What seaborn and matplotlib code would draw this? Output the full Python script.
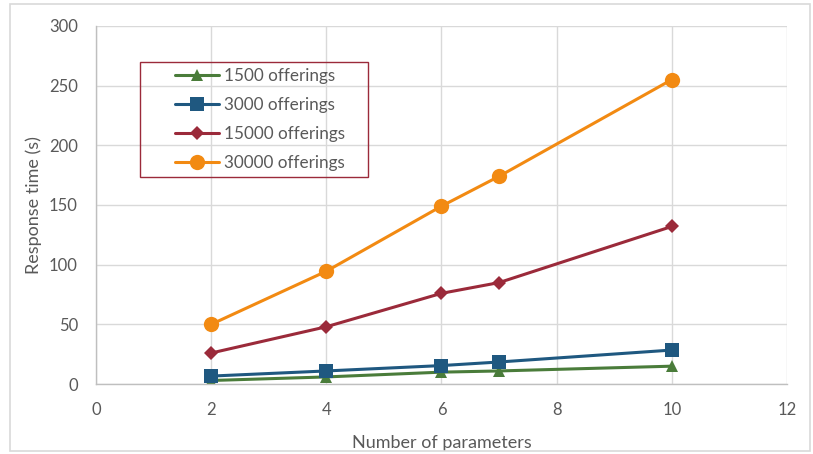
import matplotlib
matplotlib.use("Agg")
import matplotlib.pyplot as plt
import seaborn as sns
import pandas as pd
from matplotlib.patches import Rectangle

sns.set_theme(style="whitegrid")
plt.rcParams['font.family'] = ['Lato', 'DejaVu Sans']

params = [2, 4, 6, 7, 10]
s1500 = [3, 6, 10, 11, 15]
s3000 = [6.7, 11, 15.5, 18.5, 28.5]
s15000 = [26, 48, 76, 85, 132]
s30000 = [50, 94.5, 149, 174, 255]
series_names = ["1500 offerings", "3000 offerings", "15000 offerings", "30000 offerings"]
colors = ["#4a7c3a", "#1f5880", "#9b2a3a", "#f28a12"]
markers = ["^", "s", "D", "o"]
msizes = [9, 10, 7, 11]

df = pd.DataFrame({
    "params": params * 4,
    "time": s1500 + s3000 + s15000 + s30000,
    "series": sum([[n] * len(params) for n in series_names], []),
})

fig = plt.figure(figsize=(8.13, 4.54), dpi=100)
ax = fig.add_axes([0.118, 0.154, 0.850, 0.789])

for name, c, m, ms in zip(series_names, colors, markers, msizes):
    sub = df[df["series"] == name]
    sns.lineplot(data=sub, x="params", y="time", ax=ax, color=c, marker=m,
                 markersize=ms, markeredgewidth=0, linewidth=2.2, label=name)

ax.set_xlim(0, 12)
ax.set_ylim(0, 300)
ax.set_xticks(range(0, 13, 2))
ax.set_yticks(range(0, 301, 50))
ax.grid(True, color="#d9d9d9", linewidth=1)
for s in ["top", "right"]:
    ax.spines[s].set_visible(False)
for s in ["left", "bottom"]:
    ax.spines[s].set_color("#bfbfbf")
    ax.spines[s].set_linewidth(1)
ax.tick_params(axis="both", colors="#595959", labelsize=12, length=0)
ax.tick_params(axis="x", pad=13)
ax.tick_params(axis="y", pad=13)
ax.set_xlabel("Number of parameters", fontsize=13, color="#595959", labelpad=12)
ax.set_ylabel("Response time (s)", fontsize=13, color="#595959", labelpad=5)

# legend entries without frame, boxed by a separate rectangle
leg = ax.legend(loc="upper left", bbox_to_anchor=(175 / 813, 1 - 68 / 454),
                bbox_transform=fig.transFigure, frameon=False,
                fontsize=12.3, handlelength=2.6, labelspacing=0.76,
                borderpad=0, handletextpad=0.25, borderaxespad=0)
for t in leg.get_texts():
    t.set_color("#595959")
fig.patches.append(Rectangle((140 / 813, 1 - 177 / 454), 228 / 813, 115 / 454,
                             transform=fig.transFigure, fill=True, facecolor="none",
                             edgecolor="#9b2a3a", linewidth=1, zorder=10))

fig.patches.append(Rectangle((0.012, 0.007), 0.984, 0.985, transform=fig.transFigure,
                             fill=False, edgecolor="#d9d9d9", linewidth=1.2))

fig.savefig("out.png", dpi=100)
